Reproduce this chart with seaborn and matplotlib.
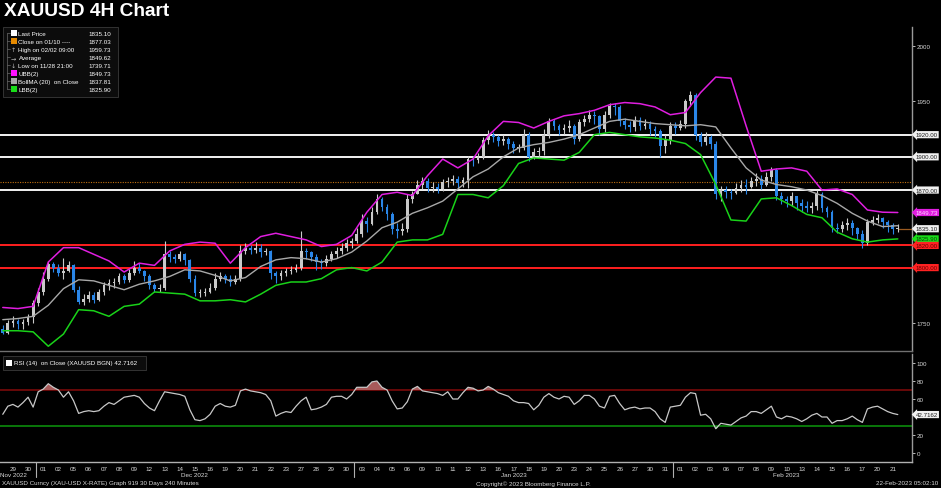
import numpy as np
import pandas as pd
import matplotlib
matplotlib.use("Agg")
import matplotlib.pyplot as plt
import seaborn as sns
from matplotlib.patches import Rectangle
from matplotlib.lines import Line2D

# ---------------- data ----------------
day_labels = ["28", "29", "30", "01", "02", "05", "06", "07", "08", "09", "12", "13", "14", "15", "16",
              "19", "20", "21", "22", "23", "27", "28", "29", "30", "03", "04", "05", "06", "09", "10",
              "11", "12", "13", "16", "17", "18", "19", "20", "23", "24", "25", "26", "27", "30", "31",
              "01", "02", "03", "06", "07", "08", "09", "10", "13", "14", "15", "16", "17", "20", "21"]
month_names = ["Nov 2022", "Dec 2022", "Jan 2023", "Feb 2023"]
month_first_day = [0, 3, 24, 45]
bars_per_day = 3

first_open = 1745
close = [1741,
 1750, 1752, 1749, 1751, 1755, 1768, 1778, 1790, 1803, 1800, 1795, 1797, 1802, 1780, 1769,
 1772, 1775, 1771, 1778, 1784, 1786, 1787, 1792, 1789, 1795, 1800, 1797, 1792, 1784, 1781,
 1782, 1812, 1810, 1808, 1812, 1807, 1790, 1777, 1777, 1778, 1782, 1790, 1792, 1790, 1787,
 1790, 1815, 1818, 1816, 1818, 1814, 1815, 1795, 1792, 1795, 1797, 1798, 1800, 1815, 1814,
 1810, 1805, 1804, 1808, 1812, 1815, 1818, 1822, 1824, 1830, 1842, 1839, 1850, 1862, 1855,
 1848, 1835, 1833, 1835, 1862, 1866, 1875, 1878, 1872, 1873, 1871, 1877, 1878, 1880, 1876,
 1879, 1898, 1897, 1900, 1915, 1920, 1918, 1914, 1916, 1912, 1908, 1908, 1920, 1900, 1904,
 1905, 1920, 1932, 1928, 1924, 1926, 1928, 1916, 1931, 1934, 1938, 1937, 1925, 1938, 1946,
 1945, 1932, 1929, 1927, 1933, 1928, 1930, 1925, 1923, 1910, 1915, 1928, 1926, 1930, 1950,
 1956, 1920, 1913, 1918, 1912, 1866, 1870, 1868, 1867, 1872, 1875, 1873, 1878, 1880, 1875,
 1882, 1888, 1865, 1862, 1860, 1865, 1858, 1856, 1854, 1856, 1866, 1854, 1850, 1836, 1835,
 1838, 1840, 1836, 1830, 1822, 1841, 1843, 1845, 1841, 1838, 1835, 1835.10]
high = [1748,
 1753, 1756, 1754, 1754, 1758, 1771, 1782, 1796, 1806, 1805, 1803, 1809, 1806, 1803, 1783,
 1776, 1779, 1778, 1781, 1787, 1790, 1791, 1795, 1794, 1799, 1806, 1804, 1798, 1794, 1786,
 1785, 1824, 1815, 1812, 1815, 1813, 1808, 1793, 1781, 1782, 1786, 1795, 1796, 1794, 1793,
 1793, 1820, 1822, 1820, 1823, 1821, 1818, 1816, 1797, 1798, 1800, 1801, 1803, 1833, 1818,
 1815, 1812, 1808, 1811, 1815, 1819, 1822, 1826, 1827, 1836, 1848, 1846, 1855, 1866, 1864,
 1857, 1850, 1840, 1840, 1866, 1869, 1879, 1882, 1881, 1877, 1876, 1880, 1882, 1884, 1883,
 1882, 1901, 1901, 1903, 1918, 1924, 1922, 1920, 1920, 1918, 1914, 1912, 1925, 1922, 1908,
 1909, 1925, 1935, 1934, 1930, 1930, 1933, 1930, 1934, 1938, 1942, 1941, 1938, 1941, 1949,
 1949, 1947, 1935, 1932, 1937, 1936, 1934, 1932, 1928, 1925, 1920, 1931, 1931, 1933, 1952,
 1959.73, 1958, 1922, 1922, 1920, 1914, 1874, 1874, 1871, 1876, 1879, 1880, 1882, 1885, 1884,
 1886, 1891, 1890, 1868, 1865, 1868, 1863, 1862, 1860, 1859, 1870, 1868, 1856, 1852, 1840,
 1842, 1845, 1843, 1837, 1834, 1844, 1847, 1848, 1846, 1843, 1840, 1839]
low = [1739.71,
 1740, 1746, 1745, 1745, 1748, 1750, 1765, 1775, 1788, 1796, 1792, 1790, 1796, 1778, 1767,
 1766, 1769, 1768, 1770, 1775, 1780, 1782, 1785, 1786, 1787, 1793, 1795, 1788, 1781, 1778,
 1778, 1780, 1805, 1804, 1806, 1802, 1787, 1774, 1773, 1774, 1777, 1780, 1788, 1786, 1783,
 1785, 1788, 1812, 1812, 1813, 1810, 1811, 1790, 1786, 1789, 1792, 1794, 1796, 1798, 1808,
 1806, 1798, 1799, 1801, 1806, 1809, 1812, 1815, 1818, 1822, 1828, 1832, 1838, 1848, 1851,
 1843, 1830, 1827, 1829, 1832, 1858, 1866, 1871, 1868, 1868, 1867, 1869, 1873, 1875, 1872,
 1873, 1872, 1892, 1894, 1898, 1912, 1913, 1910, 1911, 1907, 1903, 1904, 1906, 1896, 1898,
 1899, 1902, 1917, 1924, 1920, 1921, 1922, 1912, 1914, 1928, 1931, 1930, 1920, 1922, 1935,
 1938, 1928, 1925, 1922, 1923, 1924, 1925, 1920, 1918, 1900, 1903, 1912, 1921, 1924, 1926,
 1946, 1915, 1910, 1911, 1907, 1862, 1860, 1863, 1862, 1866, 1868, 1866, 1872, 1874, 1871,
 1874, 1878, 1861, 1857, 1855, 1856, 1852, 1850, 1850, 1849, 1852, 1850, 1846, 1832, 1831,
 1832, 1834, 1829, 1826, 1818, 1820, 1838, 1840, 1836, 1832, 1830, 1832]

# Bollinger bands, sampled once per day (last bar of each day)
ubb = [1764, 1763, 1765, 1805, 1818, 1818, 1812, 1806, 1796, 1804, 1802, 1815, 1821, 1823, 1822,
       1804, 1818, 1828, 1831, 1828, 1825, 1819, 1821, 1829, 1850, 1866, 1868, 1865, 1883, 1898,
       1890, 1898, 1919, 1932, 1931, 1926, 1932, 1937, 1939, 1942, 1947, 1949, 1948, 1945, 1938,
       1940, 1958, 1972, 1971, 1928, 1887, 1889, 1890, 1887, 1870, 1871, 1866, 1852, 1850, 1849.73]
boll_ma = [1753, 1754, 1756, 1766, 1781, 1789, 1788, 1784, 1780, 1785, 1788, 1792, 1798, 1797, 1793,
           1788, 1791, 1801, 1807, 1809, 1808, 1805, 1808, 1814, 1824, 1836, 1841, 1849, 1854, 1860,
           1871, 1882, 1889, 1900, 1908, 1911, 1913, 1916, 1920, 1926, 1932, 1934, 1932, 1930, 1929,
           1928, 1929, 1927, 1908, 1890, 1879, 1875, 1873, 1870, 1865, 1858, 1849, 1842, 1837, 1837.81]
lbb = [1743, 1743, 1742, 1729, 1740, 1762, 1761, 1756, 1765, 1767, 1778, 1777, 1776, 1770, 1770,
       1771, 1769, 1776, 1784, 1787, 1787, 1790, 1798, 1800, 1797, 1805, 1823, 1825, 1825, 1830,
       1866, 1866, 1863, 1874, 1894, 1899, 1898, 1897, 1904, 1920, 1922, 1920, 1918, 1917, 1915,
       1912, 1902, 1875, 1843, 1842, 1862, 1863, 1856, 1848, 1845, 1832, 1826, 1823, 1825, 1825.90]

rsi = [43,
 52, 54, 51, 56, 62, 51, 68, 71, 77, 73, 70, 62, 68, 58, 44, 46, 47, 46, 47, 52, 56,
 54, 58, 62, 63, 64, 62, 55, 50, 47, 58, 68, 67, 66, 65, 63, 48, 37, 36, 38, 43, 52,
 55, 52, 51, 53, 69, 71, 69, 68, 67, 65, 58, 41, 44, 46, 45, 52, 58, 62, 48, 49, 51,
 54, 62, 63, 63, 60, 65, 73, 73, 73, 79, 80, 73, 70, 58, 49, 50, 57, 71, 74, 69, 68,
 67, 66, 64, 68, 60, 60, 67, 73, 72, 69, 70, 74, 71, 67, 65, 63, 58, 56, 56, 55, 48,
 53, 62, 66, 62, 60, 63, 62, 54, 58, 64, 64, 60, 52, 50, 63, 64, 55, 48, 50, 51, 49,
 50, 50, 46, 38, 34, 51, 52, 53, 62, 67, 66, 42, 43, 38, 27, 33, 32, 31, 35, 39, 41,
 46, 46, 44, 48, 52, 40, 38, 41, 40, 38, 35, 38, 42, 44, 40, 40, 33, 36, 36, 38, 41,
 37, 34, 49, 51, 52, 49, 46, 44, 42.7162]

white_levels = [1920.00, 1900.00, 1870.00]
red_levels = [1820.00, 1800.00]
close_0110 = 1877.03
last_price = 1835.10

legend_names = ["Last Price", "Close on 01/10 ----", "High on 02/02 09:00", "Average",
                "Low on 11/28 21:00", "UBB(2)", "BollMA (20)  on Close", "LBB(2)"]
legend_values = ["1835.10", "1877.03", "1959.73", "1849.62", "1739.71", "1849.73", "1837.81", "1825.90"]

# ---------------- figure ----------------
sns.set_theme(style="dark")
plt.rcParams["font.family"] = ["Liberation Sans", "DejaVu Sans"]
plt.rcParams["axes.facecolor"] = "black"
plt.rcParams["figure.facecolor"] = "black"

W, H = 941, 489
fig = plt.figure(figsize=(W / 100, H / 100), dpi=100, facecolor="black")


def fx(px):
    return px / W


def fy(py):
    return 1 - py / H


AXR = 912
ax = fig.add_axes([0, fy(352), AXR / W, 324 / H])
rax = fig.add_axes([0, fy(463), AXR / W, 108 / H], sharex=ax)

n = len(close)
x = (np.arange(n) + (bars_per_day - 1)) / bars_per_day + 0.5 / bars_per_day
o = np.array([first_open] + close[:-1], dtype=float)
c = np.array(close, dtype=float)
h = np.array(high, dtype=float)
l = np.array(low, dtype=float)
up = c >= o
UPC, DNC = "#c9c9c9", "#2a86e8"
cols = np.where(up, UPC, DNC)

# horizontal level lines
for lv in white_levels:
    ax.axhline(lv, color="#f2f2f2", lw=1.4, zorder=1)
for lv in red_levels:
    ax.axhline(lv, color="#ff1f1f", lw=1.4, zorder=1)
ax.axhline(close_0110, color="#c07010", lw=0.8, ls=(0, (1, 1.2)), zorder=1)

# candles
ax.vlines(x, l, h, colors=cols, lw=0.8, zorder=3)
bw = 0.55 / bars_per_day
ax.bar(x, np.maximum(np.abs(c - o), 0.6), bottom=np.minimum(o, c), width=bw,
       color=cols, edgecolor="none", zorder=4)

# bands
bx = x[::bars_per_day]
bands = pd.DataFrame({"x": bx, "ubb": ubb, "ma": boll_ma, "lbb": lbb})
sns.lineplot(data=bands, x="x", y="ubb", ax=ax, color="#e01ee0", lw=1.1, zorder=5)
sns.lineplot(data=bands, x="x", y="ma", ax=ax, color="#a8a8a8", lw=1.0, zorder=5)
sns.lineplot(data=bands, x="x", y="lbb", ax=ax, color="#19d219", lw=1.1, zorder=5)

# last price pointer
ax.plot([x[-1], 61], [last_price, last_price], color="#9a5a20", lw=0.9, zorder=2)

xlim = (0.65, 60.77)
ax.set_xlim(*xlim)
ax.set_ylim(1724.7, 2017.2)

# RSI panel
rdf = pd.DataFrame({"x": x, "rsi": rsi})
r = np.array(rsi, dtype=float)
rax.axhline(70, color="#7a0a0a", lw=1.2, zorder=1)
rax.axhline(30, color="#0c8c0c", lw=1.2, zorder=1)
rax.fill_between(x, 70, r, where=r > 70, interpolate=True, color="#a85a5a", lw=0, zorder=2)
rax.fill_between(x, 30, r, where=r < 30, interpolate=True, color="#3aa03a", lw=0, zorder=2)
sns.lineplot(data=rdf, x="x", y="rsi", ax=rax, color="#c8c8c8", lw=0.9, zorder=3)
rax.set_ylim(-10, 110)

TC = "#d8d8d8"
FS = 4.5
for a in (ax, rax):
    a.set_facecolor("black")
    a.grid(False)
    a.set_xlabel("")
    a.set_ylabel("")
    for s in ("left", "top"):
        a.spines[s].set_visible(False)
    a.spines["right"].set_color("#9a9a9a")
    a.spines["right"].set_linewidth(1.0)
    a.spines["bottom"].set_color("#707070")
    a.spines["bottom"].set_linewidth(1.0)
    a.yaxis.tick_right()
    a.tick_params(axis="y", colors=TC, labelsize=FS, length=2, width=0.6, pad=1.5,
                  left=False, right=True, labelleft=False, labelright=True)

ax.set_yticks([1750, 1950, 2000])
ax.set_yticklabels(["1750", "1950", "2000"])
ax.tick_params(axis="x", bottom=False, labelbottom=False)
rax.set_yticks([0, 20, 60, 80, 100])
rax.set_yticklabels(["0", "20", "60", "80", "100"])
rax.spines["bottom"].set_color("#b0b0b0")

day_idx = np.arange(1, len(day_labels))
rax.set_xticks(day_idx + 0.5)
rax.set_xticklabels(day_labels[1:])
rax.tick_params(axis="x", colors=TC, labelsize=FS, length=0, pad=3)
rax.set_xlim(*xlim)

# month separators and labels
for d0 in month_first_day[1:]:
    rax.add_line(Line2D([d0, d0], [0, -0.14], transform=rax.get_xaxis_transform(),
                        color="#b0b0b0", lw=0.8, clip_on=False))
ends = month_first_day[1:] + [len(day_labels)]
for i, (name, s, e) in enumerate(zip(month_names, month_first_day, ends)):
    if i == 0:
        rax.text(xlim[0], -0.12, name, transform=rax.get_xaxis_transform(),
                 ha="left", va="center", color=TC, fontsize=FS, clip_on=False)
    else:
        rax.text((s + e) / 2, -0.12, name, transform=rax.get_xaxis_transform(),
                 ha="center", va="center", color=TC, fontsize=FS, clip_on=False)


# right-side tags
TFS = 4.4


def tag(a, y, text, fc, tc):
    a.annotate(text, xy=(1.0, y), xycoords=a.get_yaxis_transform(), xytext=(2.6, 0),
               textcoords="offset points", ha="left", va="center", fontsize=TFS, color=tc,
               bbox=dict(boxstyle="larrow,pad=0.18", fc=fc, ec="none"), annotation_clip=False,
               zorder=10)


for lv in white_levels:
    tag(ax, lv, f"{lv:.2f}", "#f0f0f0", "#202020")
tag(ax, ubb[-1], f"{ubb[-1]:.2f}", "#e01ee0", "#ffd8ff")
tag(ax, last_price, f"{last_price:.2f}", "#f0f0f0", "#202020")
tag(ax, lbb[-1], f"{lbb[-1]:.2f}", "#19dd19", "#064006")
for lv in red_levels:
    tag(ax, lv, f"{lv:.2f}", "#ff2222", "#6a0000")
tag(rax, rsi[-1], f"{rsi[-1]:.4f}", "#f0f0f0", "#202020")

# title
fig.text(fx(4), fy(12), "XAUUSD 4H Chart", fontsize=13.8, fontweight="bold", color="white",
         va="center", ha="left")

# price legend box
fig.patches.append(Rectangle((fx(3), fy(98)), fx(115), 70 / H, transform=fig.transFigure,
                             fc="#0c0c0c", ec="#3a3a3a", lw=0.6, zorder=20))
swatch = ["#ffffff", "#e68a00", None, None, None, "#ff10ff", "#a8a8a8", "#19dd19"]
glyph = [None, None, "\u2191", "\u2192", "\u2193", None, None, None]
fig.lines.append(Line2D([fx(7), fx(7)], [fy(34), fy(90)], transform=fig.transFigure,
                        color="#6a6a6a", lw=0.5, zorder=21))
for i, (nm, val) in enumerate(zip(legend_names, legend_values)):
    yy = 34.3 + i * 8.0
    fig.lines.append(Line2D([fx(7), fx(10)], [fy(yy), fy(yy)], transform=fig.transFigure,
                            color="#6a6a6a", lw=0.5, zorder=21))
    if swatch[i]:
        fig.patches.append(Rectangle((fx(10.5), fy(yy + 3)), fx(6), 6 / H,
                                     transform=fig.transFigure, fc=swatch[i], ec="none", zorder=22))
    else:
        fig.text(fx(13.5), fy(yy), glyph[i], fontsize=4.5, color="#bbbbbb", ha="center",
                 va="center", family=["DejaVu Sans"], zorder=22)
    fig.text(fx(18.5), fy(yy), nm, fontsize=FS, color="white", ha="left", va="center", zorder=22)
    fig.text(fx(111), fy(yy), val, fontsize=FS, color="white", ha="right", va="center", zorder=22)

# RSI legend box
fig.patches.append(Rectangle((fx(3), fy(371)), fx(143), 14 / H, transform=fig.transFigure,
                             fc="#0c0c0c", ec="#3a3a3a", lw=0.6, zorder=20))
fig.patches.append(Rectangle((fx(6), fy(367)), fx(6), 6 / H, transform=fig.transFigure,
                             fc="white", ec="none", zorder=22))
fig.text(fx(14), fy(364), "RSI (14)  on Close (XAUUSD BGN) 42.7162", fontsize=FS, color="white",
         ha="left", va="center", zorder=22)

# footer
fig.text(fx(2), fy(484), "XAUUSD Curncy (XAU-USD X-RATE) Graph 919 30 Days 240 Minutes",
         fontsize=FS, color=TC, ha="left", va="center")
fig.text(fx(476), fy(484), "Copyright\u00a9 2023 Bloomberg Finance L.P.", fontsize=FS, color=TC,
         ha="left", va="center")
fig.text(fx(938), fy(484), "22-Feb-2023 05:02:10", fontsize=FS, color=TC, ha="right", va="center")

fig.savefig("out.png", dpi=100, facecolor="black")
